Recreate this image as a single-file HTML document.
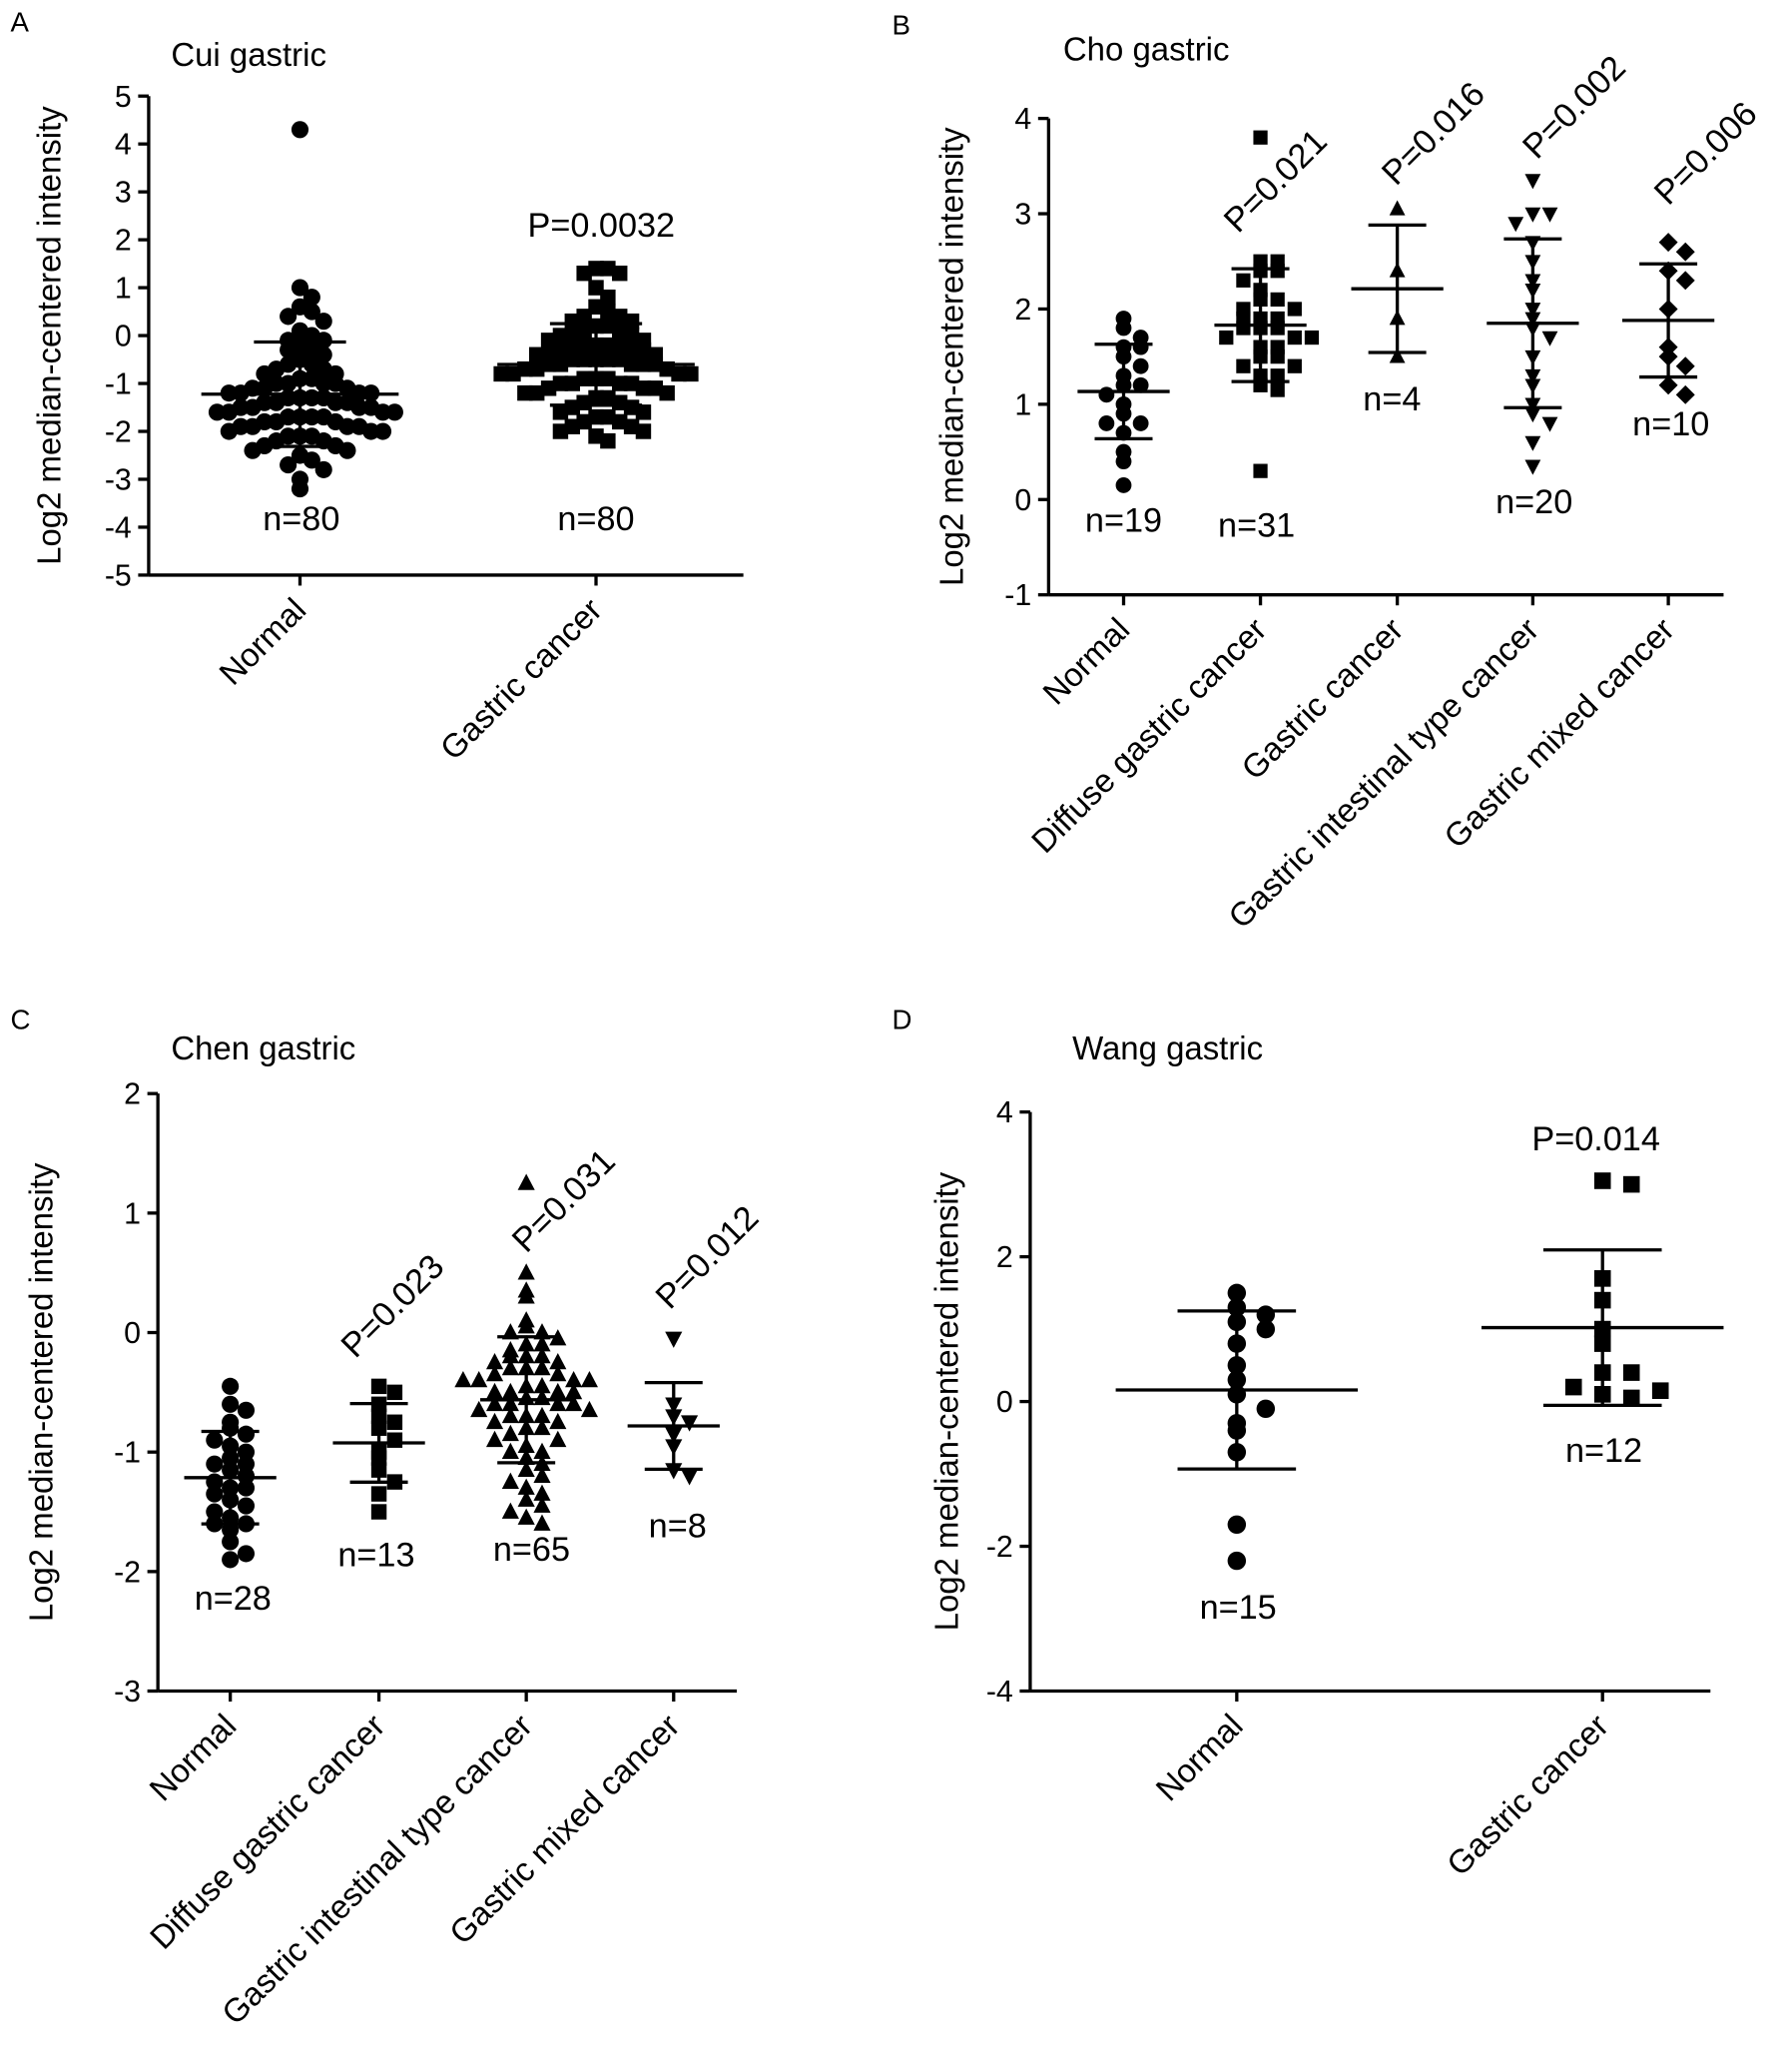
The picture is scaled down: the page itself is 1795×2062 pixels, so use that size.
<!DOCTYPE html>
<html><head><meta charset="utf-8"><style>
html,body{margin:0;padding:0;background:#fff;}
svg{display:block;font-family:"Liberation Sans",Arial,sans-serif;}
</style></head><body>
<svg id="fig" width="1795" height="2062" viewBox="0 0 1362 1564.6" xmlns="http://www.w3.org/2000/svg"></svg>
<script>
// ---- data ----
const aCategories=["Normal","Gastric cancer"];
const aNormal=[4.3,1.0,0.8,0.6,0.5,0.4,0.3,0.1,0,-0.1,-0.1,-0.2,-0.3,-0.3,-0.4,-0.5,-0.6,-0.6,-0.7,-0.8,-0.8,-0.9,-0.9,-1.0,-1.0,-1.0,-1.1,-1.1,-1.1,-1.2,-1.2,-1.2,-1.3,-1.3,-1.3,-1.3,-1.4,-1.4,-1.4,-1.5,-1.5,-1.5,-1.5,-1.6,-1.6,-1.6,-1.7,-1.7,-1.7,-1.7,-1.8,-1.8,-1.8,-1.9,-1.9,-1.9,-2.0,-2.0,-2.0,-2.1,-2.1,-2.1,-2.2,-2.2,-2.3,-2.3,-2.4,-2.5,-2.6,-2.7,-2.8,-3.0,-3.2,-1.0,-1.4,-1.6,-1.2,-0.7,-1.9,-2.4];
const aCancer=[1.4,1.4,1.3,1.3,1.0,0.8,0.6,0.5,0.4,0.4,0.3,0.3,0.2,0.2,0.1,0.1,0,0,-0.1,-0.1,-0.2,-0.2,-0.2,-0.3,-0.3,-0.3,-0.4,-0.4,-0.4,-0.5,-0.5,-0.5,-0.5,-0.6,-0.6,-0.6,-0.6,-0.7,-0.7,-0.7,-0.8,-0.8,-0.8,-0.9,-0.9,-0.9,-1.0,-1.0,-1.0,-1.1,-1.1,-1.1,-1.2,-1.2,-1.2,-1.3,-1.3,-1.4,-1.4,-1.5,-1.5,-1.6,-1.6,-1.7,-1.7,-1.8,-1.8,-1.9,-1.9,-2.0,-2.0,-2.1,-2.2,-0.2,-0.5,-0.8,-1.0,0.0,-0.3,-0.6];
const aTicks=[5,4,3,2,1,0,-1,-2,-3,-4,-5];
const aN=["n=80","n=80"];

const bCategories=["Normal","Diffuse gastric cancer","Gastric cancer","Gastric intestinal type cancer","Gastric mixed cancer"];
const bNormal=[1.9,1.8,1.7,1.6,1.6,1.5,1.4,1.3,1.2,1.2,1.1,1.0,0.9,0.8,0.8,0.7,0.5,0.4,0.15];
const bDiffuse=[3.8,2.5,2.5,2.4,2.4,2.3,2.2,2.1,2.1,2.0,2.0,1.9,1.9,1.9,1.8,1.8,1.8,1.7,1.7,1.7,1.6,1.6,1.5,1.5,1.4,1.4,1.3,1.3,1.2,1.15,0.3];
const bGastric=[3.05,2.4,1.9,1.5];
const bIntestinal=[3.35,3.0,3.0,2.9,2.7,2.5,2.3,2.2,2.0,1.9,1.8,1.7,1.5,1.3,1.2,1.0,0.9,0.8,0.6,0.35];
const bMixed=[2.7,2.6,2.4,2.3,2.0,1.6,1.5,1.4,1.2,1.1];
const bTicks=[4,3,2,1,0,-1];
const bN=["n=19","n=31","n=4","n=20","n=10"];
const bP=["","P=0.021","P=0.016","P=0.002","P=0.006"];

const cCategories=["Normal","Diffuse gastric cancer","Gastric intestinal type cancer","Gastric mixed cancer"];
const cNormal=[-0.45,-0.6,-0.65,-0.75,-0.8,-0.85,-0.9,-0.95,-1.0,-1.05,-1.1,-1.1,-1.15,-1.2,-1.25,-1.3,-1.3,-1.35,-1.4,-1.45,-1.5,-1.55,-1.6,-1.6,-1.65,-1.75,-1.85,-1.9];
const cDiffuse=[-0.45,-0.5,-0.6,-0.7,-0.75,-0.8,-0.9,-1.0,-1.05,-1.15,-1.25,-1.35,-1.5];
const cIntestinal=[1.25,0.5,0.35,0.3,0.1,0.05,0,0,-0.05,-0.1,-0.1,-0.15,-0.2,-0.2,-0.25,-0.25,-0.3,-0.3,-0.35,-0.35,-0.4,-0.4,-0.4,-0.45,-0.45,-0.5,-0.5,-0.5,-0.55,-0.55,-0.6,-0.6,-0.6,-0.65,-0.65,-0.7,-0.7,-0.75,-0.75,-0.8,-0.8,-0.85,-0.9,-0.9,-0.95,-1.0,-1.0,-1.05,-1.1,-1.15,-1.2,-1.25,-1.3,-1.35,-1.4,-1.45,-1.5,-1.55,-1.6,-0.3,-0.5,-0.7,-0.2,-0.4,-0.6];
const cMixed=[-0.05,-0.6,-0.7,-0.75,-0.85,-0.95,-1.15,-1.2];
const cTicks=[2,1,0,-1,-2,-3];
const cN=["n=28","n=13","n=65","n=8"];
const cP=["","P=0.023","P=0.031","P=0.012"];

const dCategories=["Normal","Gastric cancer"];
const dNormal=[1.5,1.3,1.2,1.1,1.0,0.8,0.5,0.3,0.1,-0.1,-0.3,-0.4,-0.7,-1.7,-2.2];
const dCancer=[3.05,3.0,1.7,1.4,1.0,0.8,0.4,0.4,0.2,0.15,0.1,0.05];
const dTicks=[4,2,0,-2,-4];
const dN=["n=15","n=12"];

// ---- helpers ----
const NS="http://www.w3.org/2000/svg";
const svg=document.getElementById('fig');
function mk(tag,attrs,parent,text){const e=document.createElementNS(NS,tag);for(const k in attrs)e.setAttribute(k,attrs[k]);if(text!==undefined)e.textContent=text;(parent||svg).appendChild(e);return e;}
function stats(a){const m=a.reduce((s,v)=>s+v,0)/a.length;const sd=Math.sqrt(a.reduce((s,v)=>s+(v-m)*(v-m),0)/(a.length-1));return [m,sd];}
function marker(g,shape,x,y,s){
  let e;
  if(shape==='circle')e=mk('circle',{cx:x,cy:y,r:s},g);
  else if(shape==='square')e=mk('rect',{x:x-s,y:y-s,width:2*s,height:2*s},g);
  else if(shape==='up')e=mk('polygon',{points:`${x},${y-s*1.1} ${x-s},${y+s*0.8} ${x+s},${y+s*0.8}`},g);
  else if(shape==='down')e=mk('polygon',{points:`${x},${y+s*1.1} ${x-s},${y-s*0.8} ${x+s},${y-s*0.8}`},g);
  else e=mk('polygon',{points:`${x},${y-s*1.2} ${x+s*1.2},${y} ${x},${y+s*1.2} ${x-s*1.2},${y}`},g);
  
  
}
function panel(cfg){
  const g=mk('g',{});
  
  
  const y=v=>cfg.y0+(cfg.vmax-v)*(cfg.y1-cfg.y0)/(cfg.vmax-cfg.vmin);
  const xc=i=>cfg.cx[i];
  const L=mk('text',{x:cfg.letter[0],y:cfg.letter[1],'font-size':21},g,cfg.letter[2]);
  
  const T=mk('text',{x:cfg.title[0],y:cfg.title[1],'font-size':25},g,cfg.title[2]);
  
  const ya=mk('line',{x1:cfg.ax,y1:y(cfg.vmax),x2:cfg.ax,y2:cfg.y1,stroke:'#000','stroke-width':2.5},g);
  
  const xa=mk('line',{x1:cfg.ax,y1:cfg.y1,x2:cfg.axEnd,y2:cfg.y1,stroke:'#000','stroke-width':2.5},g);
  
  cfg.ticks.forEach(t=>{
    mk('line',{x1:cfg.ax-8,y1:y(t),x2:cfg.ax,y2:y(t),stroke:'#000','stroke-width':2.5},g);
    const tl=mk('text',{x:cfg.ax-13,y:y(t)+8,'font-size':23,'text-anchor':'end'},g,String(t));
    
  });
  const yt=mk('text',{x:0,y:0,'font-size':25,'text-anchor':'middle',transform:`translate(${cfg.ytx},${(y(cfg.vmax)+cfg.y1)/2}) rotate(-90)`},g,'Log2 median-centered intensity');
  
  cfg.cats.forEach((c,i)=>{
    mk('line',{x1:xc(i),y1:cfg.y1,x2:xc(i),y2:cfg.y1+8,stroke:'#000','stroke-width':2.5},g);
    const xl=mk('text',{x:0,y:0,'font-size':25,'text-anchor':'end',transform:`translate(${xc(i)+6},${cfg.y1+28}) rotate(-45)`},g,c);
    
  });
  cfg.series.forEach((arr,i)=>{
    const sg=mk('g',{fill:'#000'},g);
    
    const sorted=arr.slice().sort((a,b)=>b-a);
    const bins={};
    const ms=cfg.shapes[i]==='square'?cfg.ms*0.9:cfg.ms;
    sorted.forEach(v=>{
      const py=y(v);const b=Math.round(py/cfg.bin);const k=bins[b]||0;bins[b]=k+1;
      const off=k===0?0:(k%2?1:-1)*Math.ceil(k/2)*cfg.dx;
      marker(sg,cfg.shapes[i],xc(i)+off,py,ms);
    });
    const [m,sd]=stats(arr);
    const eg=mk('g',{stroke:'#000','stroke-width':2.5},g);
    
    mk('line',{x1:xc(i)-cfg.mw,y1:y(m),x2:xc(i)+cfg.mw,y2:y(m)},eg);
    mk('line',{x1:xc(i)-cfg.cw,y1:y(m+sd),x2:xc(i)+cfg.cw,y2:y(m+sd)},eg);
    mk('line',{x1:xc(i)-cfg.cw,y1:y(m-sd),x2:xc(i)+cfg.cw,y2:y(m-sd)},eg);
    mk('line',{x1:xc(i),y1:y(m+sd),x2:xc(i),y2:y(m-sd)},eg);
    const nt=mk('text',{x:cfg.nPos[i][0],y:cfg.nPos[i][1],'font-size':26,'text-anchor':'middle'},g,cfg.n[i]);
    
    if(cfg.p && cfg.p[i]){
      const pp=cfg.pPos[i];
      const pt=mk('text',{x:0,y:0,'font-size':26,'text-anchor':pp[2]?'middle':'start',transform:pp[2]?`translate(${pp[0]},${pp[1]})`:`translate(${pp[0]},${pp[1]}) rotate(-45)`},g,cfg.p[i]);
      
    }
  });
}
panel({name:'panel-a-cui',letter:[8,24,'A'],title:[130,50,'Cui gastric'],ax:113,axEnd:565,vmax:5,vmin:-5,y0:73,y1:437,ticks:aTicks,ytx:46,
  cats:aCategories,cx:[228,453],series:[aNormal,aCancer],shapes:['circle','square'],ms:6.5,bin:14,dx:9,mw:75,cw:35,
  n:aN,nPos:[[229,403],[453,403]],p:["","P=0.0032"],pPos:[null,[457,180,true]]});
panel({name:'panel-b-cho',letter:[678,26,'B'],title:[808,46,'Cho gastric'],ax:797,axEnd:1310,vmax:4,vmin:-1,y0:90,y1:452,ticks:bTicks,ytx:732,
  cats:bCategories,cx:[854,958,1062,1165,1268],series:[bNormal,bDiffuse,bGastric,bIntestinal,bMixed],shapes:['circle','square','up','down','diamond'],ms:6,bin:11,dx:13,mw:35,cw:22,
  n:bN,nPos:[[854,404],[955,408],[1058,312],[1166,390],[1270,331]],p:bP,pPos:[null,[941,178],[1061,142],[1168,122],[1268,157]]});
panel({name:'panel-c-chen',letter:[8,782,'C'],title:[130,805,'Chen gastric'],ax:120,axEnd:560,vmax:2,vmin:-3,y0:831,y1:1285,ticks:cTicks,ytx:40,
  cats:cCategories,cx:[175,288,400,512],series:[cNormal,cDiffuse,cIntestinal,cMixed],shapes:['circle','square','up','down'],ms:6.5,bin:11,dx:12,mw:35,cw:22,
  n:cN,nPos:[[177,1223],[286,1190],[404,1186],[515,1168]],p:cP,pPos:[null,[270,1033],[400,953],[509,996]]});
panel({name:'panel-d-wang',letter:[678,782,'D'],title:[815,805,'Wang gastric'],ax:783,axEnd:1300,vmax:4,vmin:-4,y0:845,y1:1285,ticks:dTicks,ytx:728,
  cats:dCategories,cx:[940,1218],series:[dNormal,dCancer],shapes:['circle','square'],ms:7,bin:14,dx:22,mw:92,cw:45,
  n:dN,nPos:[[941,1230],[1219,1111]],p:["","P=0.014"],pPos:[null,[1213,874,true]]});
</script>
</body></html>
